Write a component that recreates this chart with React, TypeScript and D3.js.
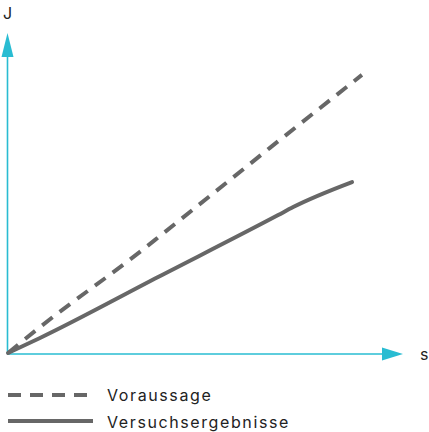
import React from "react";
import * as d3 from "d3";

const predS = [0, 8.1, 33.4, 38.5, 56.2, 66.3, 89.6];
const predJ = [0, 8.1, 31.6, 36.6, 54.1, 64.1, 86.9];
const measS = [0, 8.1, 38.0, 68.4, 72.2, 87.1];
const measJ = [0, 4.7, 23.75, 43.1, 45.6, 53.4];
const legendLabels = ["Voraussage", "Versuchsergebnisse"];
const axisLabels = ["J", "s"];

export default function App() {
  const W = 429, H = 432;
  const x = d3.scaleLinear().domain([0, 100]).range([8, 403]);
  const y = d3.scaleLinear().domain([0, 100]).range([353, 33]);
  const line = d3.line<[number, number]>().x(d => x(d[0])).y(d => y(d[1])).curve(d3.curveMonotoneX);
  const pred = predS.map((s, i) => [s, predJ[i]] as [number, number]);
  const meas = measS.map((s, i) => [s, measJ[i]] as [number, number]);
  const axisColor = "#29bcd2";
  const lineColor = "#676767";
  const y0 = y(0) + 1;
  return (
    <svg width={W} height={H} style={{ position: "absolute", left: 0, top: 0 }} fontFamily="Inter, 'Noto Sans', sans-serif">
      <line x1={7.5} y1={y0} x2={7.5} y2={56} stroke={axisColor} strokeWidth={1.6} />
      <path d={`M7.5,33 L1.5,57 L13.5,57 Z`} fill={axisColor} />
      <line x1={7} y1={y0} x2={383} y2={y0} stroke={axisColor} strokeWidth={1.6} />
      <path d={`M403,${y0} L382,${y0 - 6.5} L382,${y0 + 6.5} Z`} fill={axisColor} />
      <text x={3} y={19} fontSize={16} fill="#222">{axisLabels[0]}</text>
      <text x={420} y={360} fontSize={16} fill="#222">{axisLabels[1]}</text>
      <path d={line(pred) || ""} fill="none" stroke={lineColor} strokeWidth={4} strokeDasharray="13 9" strokeLinecap="butt" />
      <path d={line(meas) || ""} fill="none" stroke={lineColor} strokeWidth={4} strokeLinecap="round" />
      <line x1={8} y1={395} x2={93} y2={395} stroke={lineColor} strokeWidth={4} strokeDasharray="13 9" />
      <text x={107} y={401} fontSize={16} letterSpacing={1.6} fill="#222">{legendLabels[0]}</text>
      <line x1={8} y1={421} x2={93} y2={421} stroke={lineColor} strokeWidth={4} />
      <text x={107} y={427.5} fontSize={16} letterSpacing={1.6} fill="#222">{legendLabels[1]}</text>
    </svg>
  );
}
